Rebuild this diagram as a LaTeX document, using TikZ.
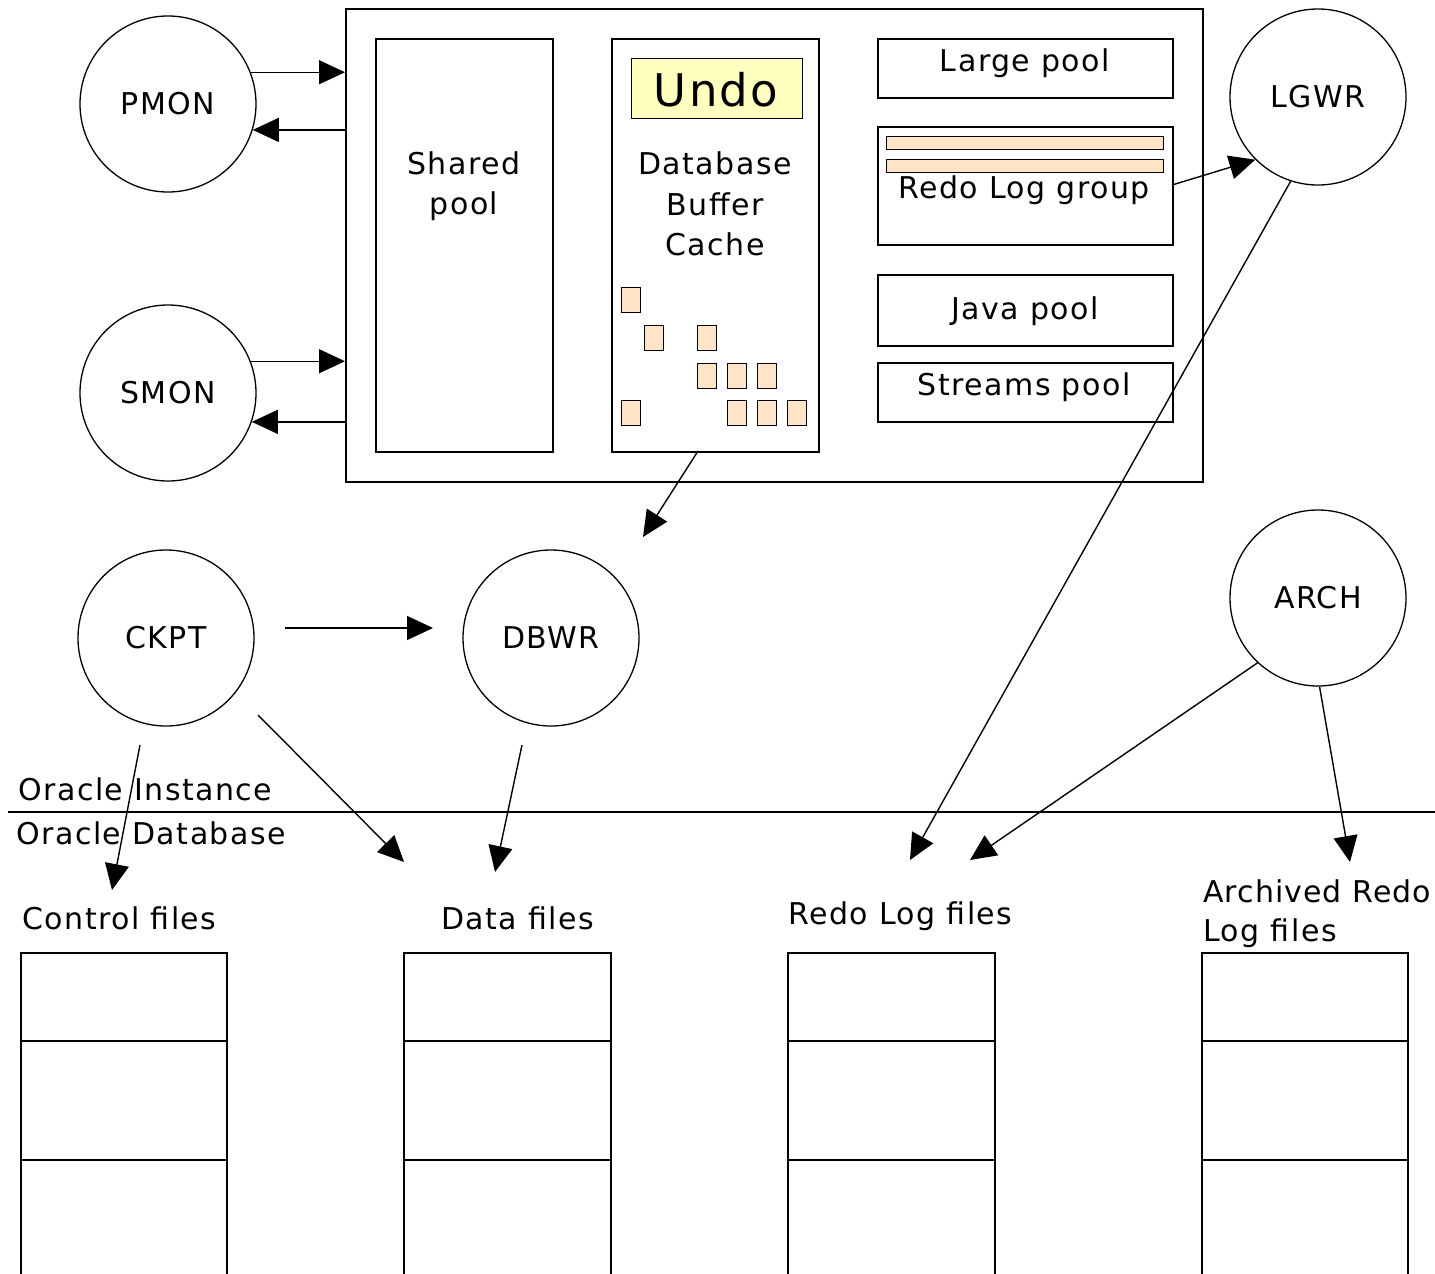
\documentclass[tikz,border=0pt]{standalone}
\usepackage{fontspec}
\setmainfont{DejaVu Sans}[LetterSpace=5]
\usetikzlibrary{arrows.meta}
\newcommand\lblfont{\fontsize{30}{36}\selectfont}
\newcommand\undofont{\fontsize{45}{52}\selectfont}
\definecolor{peach}{HTML}{FFE4C8}
\definecolor{undoyellow}{HTML}{FFFFC0}
\begin{document}
\begin{tikzpicture}[x=1pt,y=-1pt,
  box/.style={draw,line width=2pt,rectangle,inner sep=0pt,anchor=north west},
  slot/.style={draw,line width=1.3pt,fill=peach,rectangle,inner sep=0pt,anchor=north west},
  proc/.style={draw,circle,line width=1.3pt,minimum size=176pt,inner sep=0pt,font=\lblfont},
  lbl/.style={font=\lblfont,inner sep=0pt},
  arr/.style={line width=1.4pt,-{Triangle[length=26pt,width=24pt]}},
  filebox/.style={line width=2pt},
]
\useasboundingbox (0,0) rectangle (1435,1274);
\fill[white] (0,0) rectangle (1435,1274);

% SGA
\node[box,minimum width=857pt,minimum height=473pt] (sga) at (345,8) {};
\node[box,minimum width=177pt,minimum height=413pt] (shared) at (375,38) {};
\node[lbl,anchor=base] (sharedA) at (464,174) {Shared};
\node[lbl,anchor=base] (sharedB) at (464,214) {pool};

\node[box,minimum width=207pt,minimum height=413pt] (dbc) at (611,38) {};
\node[draw,line width=1.3pt,fill=undoyellow,anchor=north west,minimum width=171pt,minimum height=60pt,inner sep=0pt] (undo) at (631,58) {};
\node[font=\undofont,inner sep=0pt,anchor=base] (undotext) at (716,106) {Undo};
\node[lbl,anchor=base] (dbcA) at (715,174) {Database};
\node[lbl,anchor=base] (dbcB) at (715,215) {Buffer};
\node[lbl,anchor=base] (dbcC) at (715,255) {Cache};

\foreach \x/\y [count=\i] in {621/287, 644/325, 697/325, 697/363, 727/363, 757/363, 621/400, 727/400, 757/400, 787/400}
  \node[slot,minimum width=19pt,minimum height=25pt] (blk\i) at (\x,\y) {};

\node[box,minimum width=295pt,minimum height=59pt] (large) at (877,38) {};
\node[lbl,anchor=base] (largeT) at (1025,71) {Large pool};
\node[box,minimum width=295pt,minimum height=118pt] (redo) at (877,126) {};
\node[slot,minimum width=277pt,minimum height=13pt] (redoA) at (886,136) {};
\node[slot,minimum width=277pt,minimum height=13pt] (redoB) at (886,159) {};
\node[lbl,anchor=base] (redoT) at (1024,198) {Redo Log group};
\node[box,minimum width=295pt,minimum height=71pt] (java) at (877,274) {};
\node[lbl,anchor=base] (javaT) at (1025,319) {Java pool};
\node[box,minimum width=295pt,minimum height=59pt] (streams) at (877,362) {};
\node[lbl,anchor=base] (streamsT) at (1024,395) {Streams pool};

% processes
\node[proc] (pmon) at (168,104) {PMON};
\node[proc] (smon) at (168,393) {SMON};
\node[proc] (ckpt) at (166,638) {CKPT};
\node[proc] (dbwr) at (551,638) {DBWR};
\node[proc] (lgwr) at (1318,97) {LGWR};
\node[proc] (arch) at (1318,598) {ARCH};

% arrows PMON / SMON
\draw[arr] (pmon.21) -- (pmon.21 -| sga.west);
\draw[arr] (pmon.-17 -| sga.west) -- (pmon.-17);
\draw[arr] (smon.21) -- (smon.21 -| sga.west);
\draw[arr] (smon.-19 -| sga.west) -- (smon.-19);

% free arrow ends
\coordinate (dbcOut) at (698,451);
\coordinate (dbcEnd) at (643,537);
\coordinate (redoOut) at (1172,185);
\coordinate (lgwrEnd) at (910,860);
\coordinate (archEndA) at (970,860);
\coordinate (archEndB) at (1350,862);
\coordinate (ckptA1) at (285,628);
\coordinate (ckptA2) at (433,628);
\coordinate (ckptB1) at (258,715);
\coordinate (ckptB2) at (404,862);
\coordinate (ckptC1) at (140,745);
\coordinate (ckptC2) at (112,890);
\coordinate (dbwrA1) at (522,745);
\coordinate (dbwrA2) at (495,872);

\draw[arr] (dbcOut) -- (dbcEnd);
\draw[arr] (redoOut) -- (lgwr.225);
\draw[arr] (lgwr.252) -- (lgwrEnd);
\draw[arr] (arch.227) -- (archEndA);
\draw[arr] (arch.271) -- (archEndB);
\draw[arr] (ckptA1) -- (ckptA2);
\draw[arr] (ckptB1) -- (ckptB2);
\draw[arr] (ckptC1) -- (ckptC2);
\draw[arr] (dbwrA1) -- (dbwrA2);

% divider
\coordinate (divL) at (8,812);
\coordinate (divR) at (1435,812);
\draw[line width=1.5pt] (divL) -- (divR);
\node[lbl,anchor=base west] (inst) at (18,800) {Oracle Instance};
\node[lbl,anchor=base west] (dbase) at (16,844) {Oracle Database};

% file labels
\node[lbl,anchor=base west] (ctlT) at (22,929) {Control files};
\node[lbl,anchor=base west] (dataT) at (441,929) {Data files};
\node[lbl,anchor=base west] (redofT) at (788,924) {Redo Log files};
\node[lbl,anchor=base west] (archA) at (1203,902) {\addfontfeature{LetterSpace=3.5}Archived Redo};
\node[lbl,anchor=base west] (archB) at (1203,941) {Log files};

% file stacks
\foreach \xa/\xb in {21/227, 404/611, 788/995, 1202/1408} {
  \draw[filebox] (\xa,1280) -- (\xa,953) -- (\xb,953) -- (\xb,1280);
  \draw[filebox] (\xa,1041) -- (\xb,1041);
  \draw[filebox] (\xa,1160) -- (\xb,1160);
}
\end{tikzpicture}
\end{document}
